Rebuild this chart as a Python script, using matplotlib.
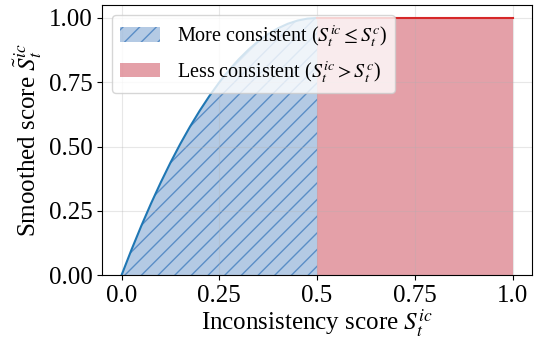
import matplotlib
matplotlib.use("Agg")
import matplotlib.pyplot as plt

plt.rcParams["font.family"] = ["Liberation Serif", "DejaVu Serif"]
plt.rcParams["mathtext.fontset"] = "stix"

# curve (x from 0 to 0.5)
curve_x = [0.0, 0.025, 0.05, 0.075, 0.1, 0.125, 0.15, 0.175, 0.2, 0.225, 0.25,
           0.275, 0.3, 0.325, 0.35, 0.375, 0.4, 0.425, 0.45, 0.475, 0.5]
curve_y = [0.0, 0.0975, 0.19, 0.2775, 0.36, 0.4375, 0.51, 0.5775, 0.64, 0.6975, 0.75,
           0.7975, 0.84, 0.8775, 0.91, 0.9375, 0.96, 0.9775, 0.99, 0.9975, 1.0]
flat_x = [0.5, 1.0]
flat_y = [1.0, 1.0]
xticks = [0.0, 0.25, 0.5, 0.75, 1.0]
xticklabels = ["0.0", "0.25", "0.5", "0.75", "1.0"]
yticks = [0.0, 0.25, 0.5, 0.75, 1.0]

fig = plt.figure(figsize=(5.37, 3.43), dpi=100)
ax = fig.add_axes([0.19, 0.198, 0.801, 0.787])

ax.fill_between(curve_x, 0, curve_y, facecolor=(0.11, 0.37, 0.68, 0.33),
                edgecolor=(0.12, 0.40, 0.70, 0.6), hatch="//", lw=0.0,
                label=r"More consistent ($S_t^{ic} \leq S_t^{c}$)")
ax.fill_between(flat_x, 0, flat_y, color="#c52c3e", alpha=0.45, lw=0,
                label=r"Less consistent ($S_t^{ic} > S_t^{c}$)")
ax.plot(curve_x, curve_y, color="#1f77b4", lw=1.5)
ax.plot(flat_x, flat_y, color="#d62728", lw=1.5)

ax.set_xlim(-0.05, 1.05)
ax.set_ylim(0, 1.05)
ax.set_xticks(xticks)
ax.set_xticklabels(xticklabels)
ax.set_yticks(yticks)
ax.tick_params(labelsize=18)
ax.grid(alpha=0.3)
ax.set_xlabel(r"Inconsistency score $S_t^{ic}$", fontsize=18, labelpad=1)
ax.set_ylabel(r"Smoothed score $\tilde{S}_t^{ic}$", fontsize=18, labelpad=3)
ax.legend(loc="upper left", fontsize=14.5, framealpha=0.8)

fig.savefig("out.png", dpi=100)
